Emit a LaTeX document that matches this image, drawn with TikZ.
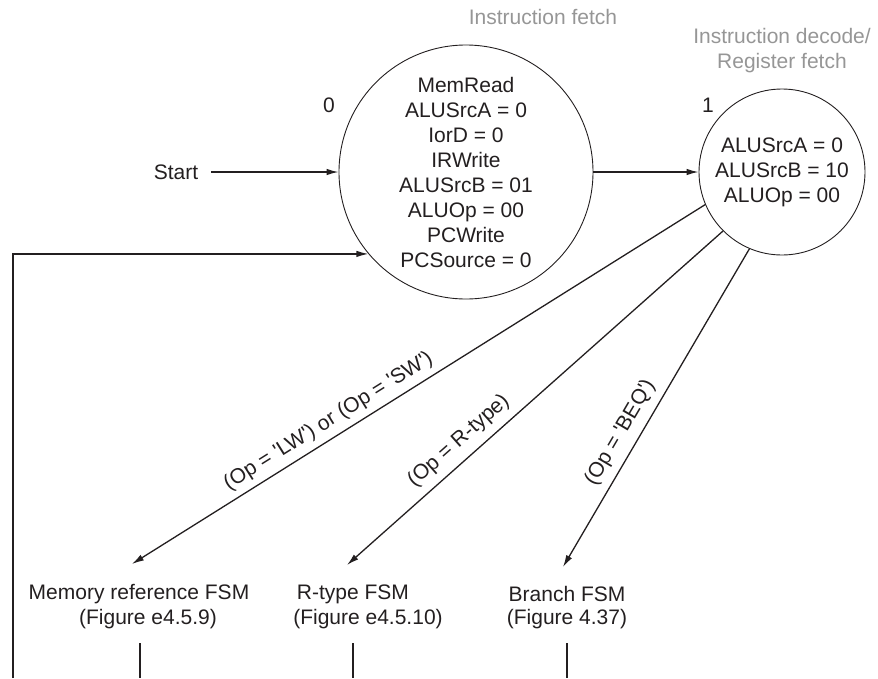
\documentclass[tikz,border=0pt]{standalone}
\usepackage{fontspec}
\setmainfont{Liberation Sans}
\usetikzlibrary{arrows.meta}
\definecolor{phasegray}{RGB}{150,150,150}
\definecolor{ink}{RGB}{35,31,32}
\begin{document}
\begin{tikzpicture}[x=1pt,y=-1pt,
  every node/.style={font=\fontsize{21}{25}\selectfont, text=ink},
  state/.style={draw=ink, circle, line width=0.9pt, inner sep=0pt, align=center},
  conn/.style={draw=ink, line width=1.3pt, -{Latex[length=12pt,width=6.5pt]}},
  plain/.style={draw=ink, line width=1.3pt},
  lab/.style={inner sep=2pt},
  phase/.style={text=phasegray, align=center},
]
\useasboundingbox (0,0) rectangle (878,678);
% states
\node[state, minimum size=254pt] (s0) at (466,172) {MemRead\\ALUSrcA = 0\\IorD = 0\\IRWrite\\ALUSrcB = 01\\ALUOp = 00\\PCWrite\\PCSource = 0};
\node[state, minimum size=166pt] (s1) at (782,172) {ALUSrcA = 0\\ALUSrcB = 10\\ALUOp = 00};
\node (n0) at (329,105) {0};
\node (n1) at (708,105) {1};
\node[phase] (p0) at (543,17) {Instruction fetch};
\node[phase] (p1) at (782,51) {Instruction decode/\\Register fetch};
\node[inner xsep=13pt] (start) at (176,172) {Start};
% bottom targets
\node (m1) at (139,594) {Memory reference FSM};
\node (m2) at (148,619) {(Figure e4.5.9)};
\node (r1) at (353,594) {R-type FSM};
\node (r2) at (368,619) {(Figure e4.5.10)};
\node (b1) at (567,594) {Branch FSM};
\node (b2) at (567,619) {(Figure 4.37)};
\coordinate (t1) at (132,564);
\coordinate (t2) at (347,565);
\coordinate (t3) at (563,567);
\coordinate (mtop) at (140,643);
\coordinate (mbot) at (140,678);
\coordinate (rtop) at (353,643);
\coordinate (rbot) at (353,678);
\coordinate (btop) at (567,643);
\coordinate (bbot) at (567,678);
\coordinate (fb) at (13,678);
% connectors
\draw[conn] (start.east) -- (s0.west);
\draw[conn] (s0.east) -- (s1.west);
\draw[conn] (fb) |- (s0.220);
\draw[conn] (s1.203) -- node[lab, pos=0.642, sloped, above=4pt] {(Op = \textquotesingle LW\textquotesingle) or (Op = \textquotesingle SW\textquotesingle)} (t1);
\draw[conn] (s1.225) -- node[lab, pos=0.67, sloped, above=6pt] {(Op = R-type)} (t2);
\draw[conn] (s1.247) -- node[lab, pos=0.607, sloped, above=6pt] {(Op = \textquotesingle BEQ\textquotesingle)} (t3);
\draw[plain] (mtop) -- (mbot);
\draw[plain] (rtop) -- (rbot);
\draw[plain] (btop) -- (bbot);
\end{tikzpicture}
\end{document}
